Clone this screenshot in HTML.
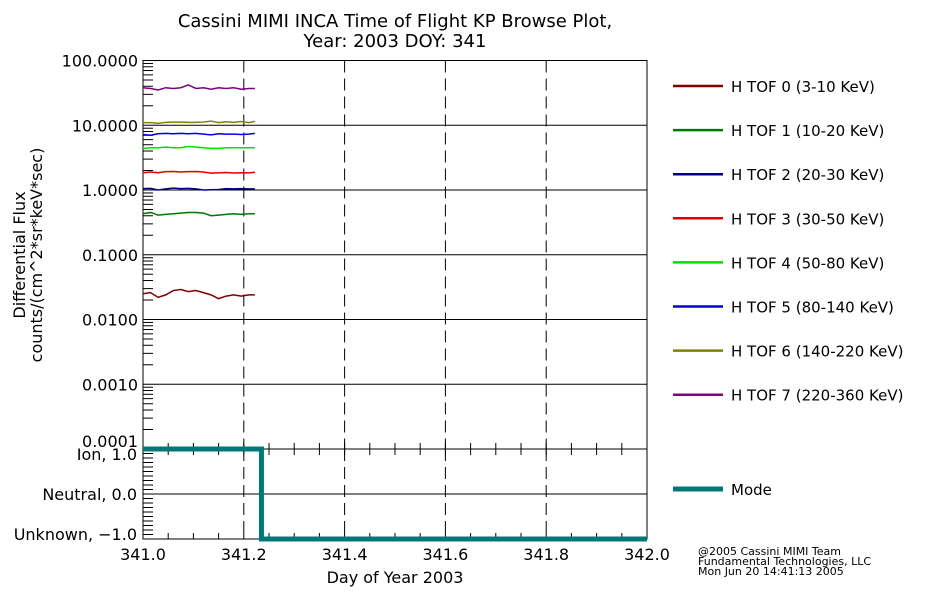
<!DOCTYPE html>
<html><head><meta charset="utf-8"><style>
body{margin:0;background:#fff}
svg text{font-family:"DejaVu Sans","Liberation Sans",sans-serif;fill:#000}
</style></head><body>
<svg id="c" width="950" height="600" xmlns="http://www.w3.org/2000/svg"></svg>
<script>
const seriesNames=["H TOF 0 (3-10 KeV)","H TOF 1 (10-20 KeV)","H TOF 2 (20-30 KeV)","H TOF 3 (30-50 KeV)","H TOF 4 (50-80 KeV)","H TOF 5 (80-140 KeV)","H TOF 6 (140-220 KeV)","H TOF 7 (220-360 KeV)"];
const seriesColors=["#800000","#007800","#000080","#e00000","#00e000","#0000e0","#808000","#800080"];
const times=[341.0,341.015,341.03,341.045,341.06,341.075,341.09,341.105,341.12,341.135,341.15,341.165,341.18,341.195,341.21,341.222];
const tof0=[0.025,0.026,0.022,0.024,0.028,0.029,0.027,0.028,0.026,0.024,0.021,0.023,0.024,0.023,0.024,0.024];
const tof1=[0.43,0.45,0.41,0.42,0.43,0.44,0.45,0.45,0.44,0.40,0.41,0.42,0.43,0.42,0.43,0.43];
const tof2=[1.05,1.06,1.00,1.04,1.07,1.05,1.06,1.04,1.00,1.01,1.02,1.05,1.04,1.05,1.04,1.04];
const tof3=[1.85,1.90,1.85,1.92,1.93,1.90,1.92,1.93,1.90,1.82,1.84,1.86,1.83,1.85,1.84,1.88];
const tof4=[4.4,4.5,4.5,4.6,4.5,4.5,4.7,4.6,4.5,4.4,4.4,4.5,4.5,4.5,4.5,4.5];
const tof5=[7.2,7.0,7.4,7.5,7.4,7.5,7.4,7.5,7.3,7.1,7.4,7.3,7.3,7.2,7.3,7.5];
const tof6=[11.0,11.0,10.7,11.1,11.2,11.2,11.1,11.1,11.2,11.6,11.0,11.3,11.1,11.4,11.0,11.5];
const tof7=[38,37,35,38,37,38,42,37,38,36,38,37,38,36,37,37];
const seriesValues=[tof0,tof1,tof2,tof3,tof4,tof5,tof6,tof7];
const modeTimes=[341.0,341.235,341.235,342.0];
const modeValues=[1,1,-1,-1];
const xTicks=["341.0","341.2","341.4","341.6","341.8","342.0"];
const yTicks=["0.0001","0.0010","0.0100","0.1000","1.0000","10.0000","100.0000"];
const modeLabels=["Unknown, \u22121.0","Neutral, 0.0","Ion, 1.0"];

const NS="http://www.w3.org/2000/svg", svg=document.getElementById('c');
function el(t,a,p){const e=document.createElementNS(NS,t);for(const k in a)e.setAttribute(k,a[k]);(p||svg).appendChild(e);return e;}
const X0=143,X1=647,YT=60.5,YB=449,MT=449,MB=539;
const xs=v=>X0+(v-341)/(1)*(X1-X0);
const ys=v=>YB-(Math.log10(v)+4)/6*(YB-YT);
const ym=v=>MT+(1-v)/2*(MB-MT);

let t=el('text',{x:395,y:27,'text-anchor':'middle','font-size':18});t.textContent="Cassini MIMI INCA Time of Flight KP Browse Plot,";

t=el('text',{x:395,y:47,'text-anchor':'middle','font-size':18});t.textContent="Year: 2003 DOY: 341";


for(let i=0;i<yTicks.length;i++){
 const y=ys(Math.pow(10,i-4));
 const l=el('line',{x1:X0,x2:X1,y1:y,y2:y,stroke:'#000','stroke-width':1});
 
 const ty=i===0?y-2:y+6;
 const tx=el('text',{x:138,y:ty,'text-anchor':'end','font-size':16});tx.textContent=yTicks[i];
 
 if(i<6)for(let m=2;m<10;m++){const yy=ys(m*Math.pow(10,i-4));el('line',{x1:X0,x2:X0+10,y1:yy,y2:yy,stroke:'#000'});}
}
for(let i=1;i<5;i++){const x=xs(341+i*0.2);
 let l=el('line',{x1:x,x2:x,y1:YT,y2:YB,stroke:'#000','stroke-dasharray':'12,6'});
 
 l=el('line',{x1:x,x2:x,y1:MT,y2:MB,stroke:'#000','stroke-dasharray':'12,6'});
}
for(let i=1;i<20;i++){const x=xs(341+i*0.05);el('line',{x1:x,x2:x,y1:YB,y2:YB-6,stroke:'#000'});el('line',{x1:x,x2:x,y1:MB,y2:MB-6,stroke:'#000'});el('line',{x1:x,x2:x,y1:MT,y2:MT+6,stroke:'#000'});}
el('line',{x1:X0,x2:X1,y1:ym(0),y2:ym(0),stroke:'#000'});
for(let i=1;i<20;i++){const y=MT+i*(MB-MT)/20;el('line',{x1:X0,x2:X0+10,y1:y,y2:y,stroke:'#000'});}
const modeOff=[1,6,11];
for(let i=0;i<3;i++){const tx=el('text',{x:137,y:ym(i-1)+modeOff[i],'text-anchor':'end','font-size':16});tx.textContent=modeLabels[i];
 }
let f=el('rect',{x:X0,y:YT,width:X1-X0,height:YB-YT,fill:'none',stroke:'#000'});

f=el('rect',{x:X0,y:MT,width:X1-X0,height:MB-MT,fill:'none',stroke:'#000'});

for(let i=0;i<xTicks.length;i++){const tx=el('text',{x:xs(parseFloat(xTicks[i])),y:560,'text-anchor':'middle','font-size':16});tx.textContent=xTicks[i];
 }
t=el('text',{x:395,y:583,'text-anchor':'middle','font-size':16});t.textContent="Day of Year 2003";

const g=el('g',{transform:'translate(25,255) rotate(-90)'});
t=el('text',{x:0,y:0,'text-anchor':'middle','font-size':16},g);t.textContent="Differential Flux";

t=el('text',{x:0,y:17,'text-anchor':'middle','font-size':16},g);t.textContent="counts/(cm^2*sr*keV*sec)";


for(let s=0;s<seriesValues.length;s++){
 const pts=times.map((tm,i)=>xs(tm)+','+ys(seriesValues[s][i])).join(' ');
 const p=el('polyline',{points:pts,fill:'none',stroke:seriesColors[s],'stroke-width':1.5});
 
 const ly=86+s*44.1;
 const ll=el('line',{x1:673,x2:723,y1:ly,y2:ly,stroke:seriesColors[s],'stroke-width':2.5});
 
 const lt=el('text',{x:731,y:ly+6,'font-size':15});lt.textContent=seriesNames[s];
 
}
const mp=el('polyline',{points:modeTimes.map((tm,i)=>xs(tm)+','+ym(modeValues[i])).join(' '),fill:'none',stroke:'#007878','stroke-width':5});

let ml=el('line',{x1:673,x2:723,y1:489,y2:489,stroke:'#007878','stroke-width':5});

t=el('text',{x:731,y:495,'font-size':15});t.textContent="Mode";

["@2005 Cassini MIMI Team","Fundamental Technologies, LLC","Mon Jun 20 14:41:13 2005"].forEach((s,i)=>{
 const c=el('text',{x:698,y:555+i*10,'font-size':11});c.textContent=s;
 });
</script>
</body></html>
